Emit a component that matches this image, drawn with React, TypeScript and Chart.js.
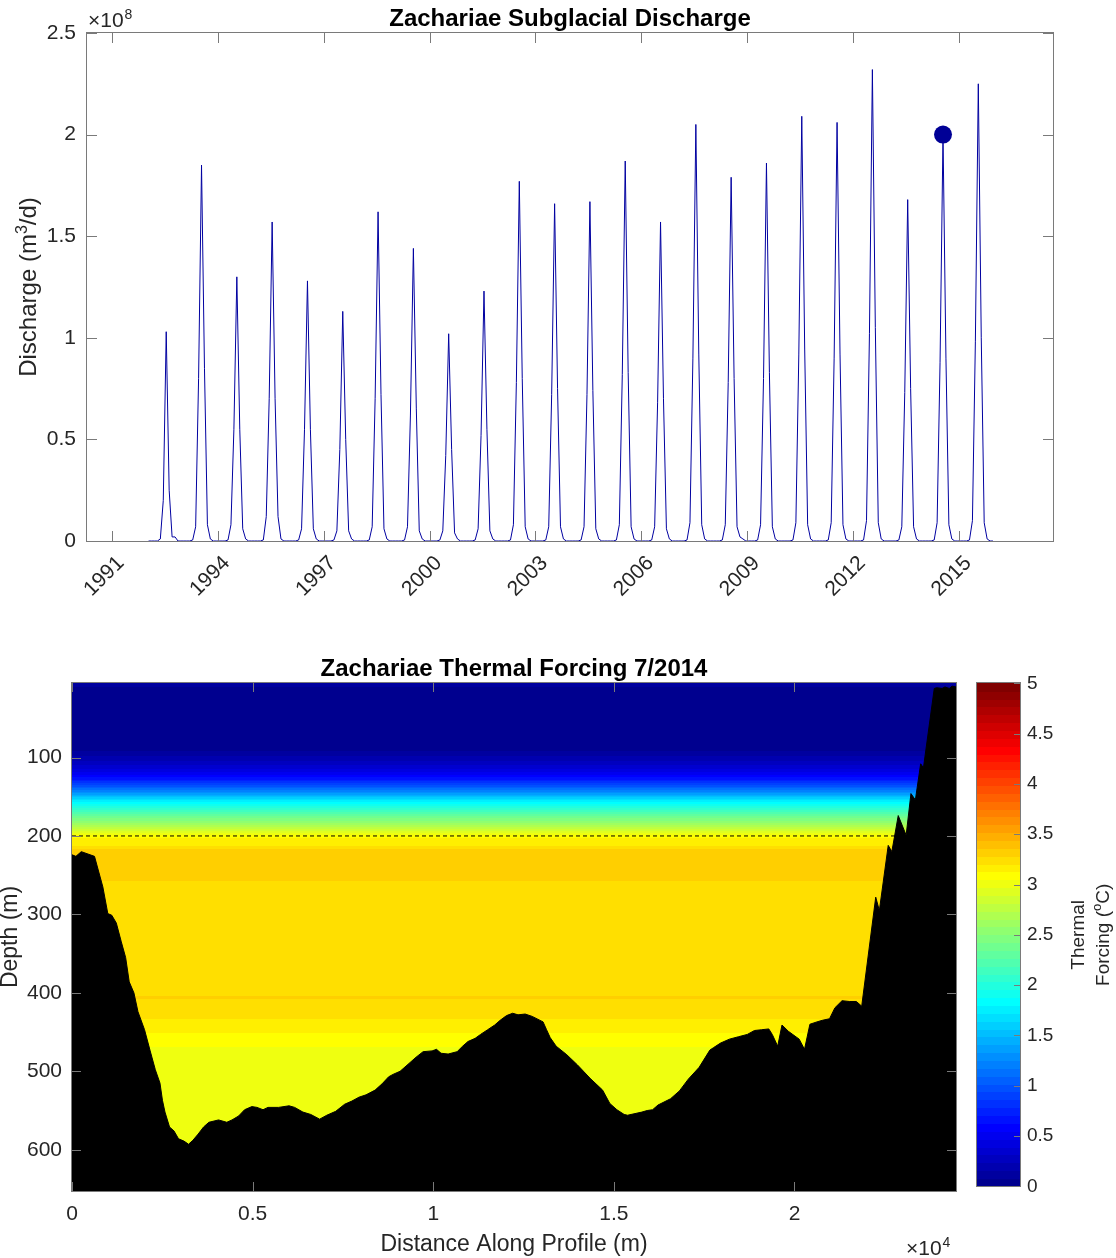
import React, { useEffect, useRef } from "react";
import { Chart, registerables } from "chart.js";
Chart.register(...registerables);

const FONT = "'Liberation Sans', Arial, Helvetica, sans-serif";
const TEXT = "#262626";
const FRAME = "#7a7a7a";
const LINE_BLUE = "rgb(0,0,160)";

// ---------------- Top chart data (discharge, units of 1e8 m^3/d) ----------------
const YEARS = [1992, 1993, 1994, 1995, 1996, 1997, 1998, 1999, 2000, 2001, 2002, 2003,
  2004, 2005, 2006, 2007, 2008, 2009, 2010, 2011, 2012, 2013, 2014, 2015];
// Jan..Dec for each year
const MONTHLY_DISCHARGE_1E8 = [
  [0, 0, 0, 0, 0.01, 0.20, 1.03, 0.25, 0.02, 0.02, 0, 0],
  [0, 0, 0, 0.005, 0.07, 0.80, 1.85, 0.85, 0.08, 0.01, 0, 0],
  [0, 0, 0, 0.005, 0.08, 0.55, 1.30, 0.55, 0.06, 0.01, 0, 0],
  [0, 0, 0, 0.005, 0.12, 0.70, 1.57, 0.70, 0.12, 0.01, 0, 0],
  [0, 0, 0, 0.005, 0.06, 0.55, 1.28, 0.55, 0.06, 0.01, 0, 0],
  [0, 0, 0, 0.005, 0.05, 0.45, 1.13, 0.50, 0.05, 0.01, 0, 0],
  [0, 0, 0, 0.005, 0.07, 0.70, 1.62, 0.72, 0.06, 0.01, 0, 0],
  [0, 0, 0, 0.005, 0.07, 0.62, 1.44, 0.65, 0.05, 0.01, 0, 0],
  [0, 0, 0, 0.005, 0.05, 0.42, 1.02, 0.45, 0.04, 0.01, 0, 0],
  [0, 0, 0, 0.005, 0.06, 0.52, 1.23, 0.55, 0.05, 0.01, 0, 0],
  [0, 0, 0, 0.005, 0.08, 0.78, 1.77, 0.80, 0.07, 0.01, 0, 0],
  [0, 0, 0, 0.005, 0.07, 0.72, 1.66, 0.75, 0.07, 0.01, 0, 0],
  [0, 0, 0, 0.005, 0.07, 0.72, 1.67, 0.74, 0.06, 0.01, 0, 0],
  [0, 0, 0, 0.005, 0.08, 0.82, 1.87, 0.83, 0.07, 0.01, 0, 0],
  [0, 0, 0, 0.005, 0.07, 0.68, 1.57, 0.70, 0.06, 0.01, 0, 0],
  [0, 0, 0, 0.005, 0.09, 0.90, 2.05, 0.92, 0.08, 0.01, 0, 0],
  [0, 0, 0, 0.005, 0.08, 0.78, 1.79, 0.80, 0.07, 0.02, 0.01, 0],
  [0, 0, 0, 0.005, 0.08, 0.80, 1.86, 0.83, 0.07, 0.01, 0, 0],
  [0, 0, 0, 0.005, 0.09, 0.92, 2.09, 0.94, 0.08, 0.01, 0, 0],
  [0, 0, 0, 0.005, 0.09, 0.90, 2.06, 0.92, 0.08, 0.01, 0, 0],
  [0, 0, 0, 0.005, 0.10, 1.02, 2.32, 1.05, 0.09, 0.01, 0, 0],
  [0, 0, 0, 0.005, 0.07, 0.73, 1.68, 0.75, 0.07, 0.01, 0, 0],
  [0, 0, 0, 0.005, 0.09, 0.88, 2.00, 0.90, 0.08, 0.01, 0, 0],
  [0, 0, 0, 0.005, 0.10, 0.98, 2.25, 1.00, 0.09, 0.01, 0, 0],
];
const MARKER_DATE = 2014 + 6.5 / 12;
const MARKER_DISCHARGE_1E8 = 2.0;
const YEAR_TICKS = [1991, 1994, 1997, 2000, 2003, 2006, 2009, 2012, 2015];
const DISCHARGE_TICKS = [0, 0.5, 1, 1.5, 2, 2.5];
const DATE_MIN = 1990.298;
const DATE_MAX = 2017.657;

// ---------------- Bottom chart data ----------------
const PROFILE_DIST_M = [0, 108, 257, 623, 854, 991, 1100, 1227, 1365, 1485, 1584, 1714, 1826, 2008,
  2158, 2307, 2435, 2504, 2574, 2700, 2823, 2949, 3099, 3227, 3346, 3493, 3642, 3789, 4057, 4285,
  4429, 4612, 4778, 4978, 5121, 5288, 5426, 5719, 6008, 6163, 6392, 6609, 6855, 7054, 7301, 7547,
  7746, 7944, 8140, 8390, 8583, 8766, 8885, 9082, 9329, 9525, 9719, 9968, 10090, 10217, 10412,
  10661, 10813, 10962, 11160, 11309, 11506, 11702, 11852, 12029, 12198, 12347, 12545, 12738, 13040,
  13137, 13237, 13403, 13699, 13995, 14344, 14688, 14888, 15084, 15284, 15380, 15776, 15923, 16072,
  16222, 16569, 16815, 17061, 17360, 17657, 17754, 17954, 18200, 18446, 18693, 18892, 19091, 19288,
  19385, 19535, 19654, 19831, 20130, 20277, 20427, 20623, 20771, 20970, 21120, 21316, 21515, 21712,
  21861, 22249, 22349, 22595, 22695, 22872, 23091, 23224, 23346, 23493, 23570, 23869, 23938, 24086,
  24166, 24285, 24362, 24471];
const BED_DEPTH_M = [224, 226, 220, 226, 265, 299, 301, 311, 335, 355, 386, 400, 424, 447,
  473, 498, 515, 537, 552, 571, 576, 586, 589, 593, 588, 580, 571, 565, 562, 565,
  562, 557, 549, 545, 546, 549, 546, 546, 544, 546, 552, 555, 561, 556, 551, 542,
  538, 533, 530, 524, 516, 507, 504, 500, 490, 482, 475, 474, 472, 477, 478,
  475, 468, 462, 458, 453, 447, 441, 435, 429, 426, 428, 427, 430, 437,
  447, 457, 468, 479, 492, 509, 524, 541, 549, 555, 556, 552, 550, 549,
  543, 535, 525, 510, 495, 473, 470, 464, 459, 456, 453, 448, 447, 446,
  453, 468, 441, 449, 459, 472, 440, 437, 435, 433, 419, 410, 411, 411,
  417, 278, 295, 212, 220, 174, 199, 146, 154, 108, 113, 12, 11, 12,
  10, 12, 9, 10];
// Thermal forcing profile (function of depth only)
const TF_DEPTH_M = [5, 18, 90, 102, 118, 128, 137, 146, 154, 163, 171, 180, 188, 196, 204, 212,
  218, 253, 260, 402, 406, 409, 428, 436, 448, 455, 466, 474, 652.6];
const TF_VALUE_C = [0.10, 0.05, 0.05, 0.20, 0.45, 0.70, 1.00, 1.35, 1.70, 2.00, 2.25, 2.48, 2.72, 2.97, 3.16, 3.17,
  3.32, 3.33, 3.25, 3.25, 3.30, 3.26, 3.26, 3.17, 3.16, 3.09, 3.08, 3.00, 2.99];
const DASH_DEPTH_M = 200;
const DIST_TICKS = [0, 5000, 10000, 15000, 20000];
const DEPTH_TICKS = [100, 200, 300, 400, 500, 600];
const CB_TICKS = [0, 0.5, 1, 1.5, 2, 2.5, 3, 3.5, 4, 4.5, 5];
const DEPTH_MIN = 5;
const DEPTH_MAX = 652.6;
const DIST_MAX = 24471;
const TF_MIN = 0;
const TF_MAX = 5;

// ---------------- helpers ----------------
function jet64(k: number): string {
  const u = (i: number) => (i < 1 || i > 47 ? 0 : i <= 16 ? i / 16 : i <= 31 ? 1 : (48 - i) / 16);
  const r = Math.round(u(k - 24) * 255);
  const g = Math.round(u(k - 8) * 255);
  const b = Math.round(u(k + 8) * 255);
  return `rgb(${r},${g},${b})`;
}
function tfColor(v: number): string {
  let k = Math.floor(((v - TF_MIN) / (TF_MAX - TF_MIN)) * 64) + 1;
  k = Math.max(1, Math.min(64, k));
  return jet64(k);
}
function tfAt(depth: number): number {
  if (depth <= TF_DEPTH_M[0]) return TF_VALUE_C[0];
  for (let i = 1; i < TF_DEPTH_M.length; i++) {
    if (depth <= TF_DEPTH_M[i]) {
      const t = (depth - TF_DEPTH_M[i - 1]) / (TF_DEPTH_M[i] - TF_DEPTH_M[i - 1]);
      return TF_VALUE_C[i - 1] + t * (TF_VALUE_C[i] - TF_VALUE_C[i - 1]);
    }
  }
  return TF_VALUE_C[TF_VALUE_C.length - 1];
}
function fmt(v: number): string {
  return String(Math.round(v * 1000) / 1000);
}
function drawBox(chart: any, tl: number) {
  const { ctx, chartArea: a } = chart;
  const xs = chart.scales.x, ys = chart.scales.y;
  ctx.save();
  ctx.strokeStyle = FRAME;
  ctx.lineWidth = 1;
  ctx.beginPath();
  for (const t of xs.ticks) {
    const px = Math.round(xs.getPixelForValue(t.value)) + 0.5;
    ctx.moveTo(px, a.bottom); ctx.lineTo(px, a.bottom - tl);
    ctx.moveTo(px, a.top); ctx.lineTo(px, a.top + tl);
  }
  for (const t of ys.ticks) {
    const py = Math.round(ys.getPixelForValue(t.value)) + 0.5;
    ctx.moveTo(a.left, py); ctx.lineTo(a.left + tl, py);
    ctx.moveTo(a.right, py); ctx.lineTo(a.right - tl, py);
  }
  ctx.stroke();
  ctx.strokeRect(a.left - 0.5, a.top - 0.5, a.right - a.left + 1, a.bottom - a.top + 1);
  ctx.restore();
}
function drawTimes10(ctx: any, x: number, y: number, exp: string) {
  ctx.save();
  ctx.fillStyle = TEXT;
  ctx.textBaseline = "alphabetic";
  ctx.textAlign = "left";
  ctx.font = `21px ${FONT}`;
  ctx.fillText("\u00d710", x, y);
  const w = ctx.measureText("\u00d710").width;
  ctx.font = `14px ${FONT}`;
  ctx.fillText(exp, x + w + 1, y - 8);
  ctx.restore();
}
function noPad(s: any) {
  s.paddingTop = 0;
  s.paddingBottom = 0;
  s.paddingLeft = 0;
  s.paddingRight = 0;
}

const baseScale = (extra: any) => ({
  type: "linear",
  grid: { display: false, drawTicks: false },
  border: { display: false },
  ...extra,
});

// ---------------- top chart ----------------
function topConfig(): any {
  const points = YEARS.flatMap((yr, i) =>
    MONTHLY_DISCHARGE_1E8[i].map((v, m) => ({ x: yr + (m + 0.5) / 12, y: v }))
  );
  const topPlugin = {
    id: "topDeco",
    afterDraw(chart: any) {
      drawBox(chart, 10);
      const { ctx, chartArea: a } = chart;
      ctx.save();
      ctx.fillStyle = "#000";
      ctx.font = `bold 24px ${FONT}`;
      ctx.textAlign = "center";
      ctx.textBaseline = "alphabetic";
      ctx.fillText("Zachariae Subglacial Discharge", (a.left + a.right) / 2, 26);
      ctx.restore();
      drawTimes10(ctx, a.left + 1, 27, "8");
      // y label with superscript
      ctx.save();
      ctx.translate(36, (a.top + a.bottom) / 2);
      ctx.rotate(-Math.PI / 2);
      ctx.fillStyle = TEXT;
      ctx.textBaseline = "alphabetic";
      ctx.textAlign = "left";
      const p1 = "Discharge (m", p2 = "3", p3 = "/d)";
      ctx.font = `24px ${FONT}`;
      const w1 = ctx.measureText(p1).width, w3 = ctx.measureText(p3).width;
      ctx.font = `16px ${FONT}`;
      const w2 = ctx.measureText(p2).width;
      const x0 = -(w1 + w2 + w3) / 2;
      ctx.font = `24px ${FONT}`;
      ctx.fillText(p1, x0, 0);
      ctx.fillText(p3, x0 + w1 + w2, 0);
      ctx.font = `16px ${FONT}`;
      ctx.fillText(p2, x0 + w1, -9);
      ctx.restore();
    },
  };
  return {
    type: "line",
    data: {
      datasets: [
        {
          label: "2014 marker",
          data: [{ x: MARKER_DATE, y: MARKER_DISCHARGE_1E8 }],
          showLine: false,
          pointRadius: 9,
          pointBackgroundColor: "rgb(0,0,150)",
          pointBorderWidth: 0,
          order: 0,
        },
        {
          label: "Discharge",
          data: points,
          borderColor: LINE_BLUE,
          borderWidth: 1,
          pointRadius: 0,
          tension: 0,
          fill: false,
          order: 1,
        },
      ],
    },
    options: {
      animation: false,
      responsive: false,
      devicePixelRatio: 1,
      layout: { autoPadding: false, padding: { left: 0, right: 63, top: 33, bottom: 0 } },
      plugins: { legend: { display: false }, tooltip: { enabled: false }, title: { display: false } },
      scales: {
        x: baseScale({
          position: "bottom",
          min: DATE_MIN,
          max: DATE_MAX,
          afterBuildTicks: (s: any) => { s.ticks = YEAR_TICKS.map((v) => ({ value: v })); },
          afterFit: (s: any) => { s.height = 79; noPad(s); },
          ticks: {
            autoSkip: false, minRotation: 45, maxRotation: 45, padding: 10, labelOffset: 9,
            color: TEXT, font: { size: 21, family: FONT },
            callback: (v: any) => String(v),
          },
        }),
        y: baseScale({
          position: "left",
          min: 0,
          max: 2.5,
          afterBuildTicks: (s: any) => { s.ticks = DISCHARGE_TICKS.map((v) => ({ value: v })); },
          afterFit: (s: any) => { s.width = 87; noPad(s); },
          ticks: {
            autoSkip: false, padding: 11, color: TEXT, font: { size: 21, family: FONT },
            callback: (v: any) => fmt(v),
          },
        }),
      },
    },
    plugins: [topPlugin],
  };
}

// ---------------- bottom chart ----------------
function bottomConfig(): any {
  const bed = PROFILE_DIST_M.map((d, i) => ({ x: d, y: BED_DEPTH_M[i] }));
  const dash = [{ x: 0, y: DASH_DEPTH_M }, { x: DIST_MAX, y: DASH_DEPTH_M }];
  const CB_GAP = 21, CB_W = 43;
  const field = {
    id: "tfField",
    beforeDatasetsDraw(chart: any) {
      const { ctx, chartArea: a } = chart;
      const ys = chart.scales.y;
      ctx.save();
      for (let py = Math.floor(a.top); py < Math.ceil(a.bottom); py++) {
        const depth = ys.getValueForPixel(py + 0.5);
        ctx.fillStyle = tfColor(tfAt(depth));
        ctx.fillRect(a.left, py, a.right - a.left, 1);
      }
      ctx.restore();
    },
    afterDraw(chart: any) {
      drawBox(chart, 9);
      const { ctx, chartArea: a } = chart;
      const cb = chart.scales.cb;
      const cx = a.right + CB_GAP;
      // colorbar
      ctx.save();
      for (let i = 0; i < 64; i++) {
        const v0 = TF_MIN + (i * (TF_MAX - TF_MIN)) / 64;
        const v1 = TF_MIN + ((i + 1) * (TF_MAX - TF_MIN)) / 64;
        const yTop = cb.getPixelForValue(v1), yBot = cb.getPixelForValue(v0);
        ctx.fillStyle = jet64(i + 1);
        ctx.fillRect(cx, Math.floor(yTop), CB_W, Math.ceil(yBot) - Math.floor(yTop));
      }
      const yT = cb.getPixelForValue(TF_MAX), yB = cb.getPixelForValue(TF_MIN);
      ctx.strokeStyle = FRAME;
      ctx.lineWidth = 1;
      ctx.beginPath();
      for (const t of cb.ticks) {
        const py = Math.round(cb.getPixelForValue(t.value)) + 0.5;
        ctx.moveTo(cx + CB_W, py); ctx.lineTo(cx + CB_W - 6, py);
      }
      ctx.stroke();
      ctx.strokeRect(Math.round(cx) - 0.5, Math.round(yT) - 0.5, CB_W + 1, Math.round(yB - yT) + 1);
      ctx.restore();
      // colorbar title
      ctx.save();
      ctx.translate(0, (yT + yB) / 2);
      ctx.rotate(-Math.PI / 2);
      ctx.fillStyle = TEXT;
      ctx.textBaseline = "alphabetic";
      ctx.font = `19px ${FONT}`;
      ctx.textAlign = "center";
      ctx.fillText("Thermal", 0, 1084);
      const q1 = "Forcing (", q2 = "o", q3 = "C)";
      const w1 = ctx.measureText(q1).width, w3 = ctx.measureText(q3).width;
      ctx.font = `13px ${FONT}`;
      const w2 = ctx.measureText(q2).width;
      const x0 = -(w1 + w2 + w3) / 2;
      ctx.textAlign = "left";
      ctx.font = `19px ${FONT}`;
      ctx.fillText(q1, x0, 1109);
      ctx.fillText(q3, x0 + w1 + w2, 1109);
      ctx.font = `13px ${FONT}`;
      ctx.fillText(q2, x0 + w1, 1109 - 8);
      ctx.restore();
      // titles
      ctx.save();
      ctx.fillStyle = "#000";
      ctx.font = `bold 24px ${FONT}`;
      ctx.textAlign = "center";
      ctx.textBaseline = "alphabetic";
      const cxm = (a.left + a.right) / 2;
      ctx.fillText("Zachariae Thermal Forcing 7/2014", cxm, 56);
      ctx.fillStyle = TEXT;
      ctx.font = `23px ${FONT}`;
      ctx.fillText("Distance Along Profile (m)", cxm, 631);
      ctx.translate(17, (a.top + a.bottom) / 2);
      ctx.rotate(-Math.PI / 2);
      ctx.fillText("Depth (m)", 0, 0);
      ctx.restore();
      drawTimes10(ctx, 906, 635, "4");
    },
  };
  return {
    type: "line",
    data: {
      datasets: [
        {
          label: "Bed",
          data: bed,
          borderColor: "#000",
          borderWidth: 1,
          backgroundColor: "#000",
          fill: { value: DEPTH_MAX },
          pointRadius: 0,
          tension: 0,
          order: 0,
        },
        {
          label: "200 m",
          data: dash,
          borderColor: "#000",
          borderWidth: 1,
          borderDash: [4, 3],
          pointRadius: 0,
          fill: false,
          order: 1,
        },
      ],
    },
    options: {
      animation: false,
      responsive: false,
      devicePixelRatio: 1,
      layout: { autoPadding: false, padding: { left: 0, right: 0, top: 63, bottom: 0 } },
      plugins: { legend: { display: false }, tooltip: { enabled: false }, title: { display: false } },
      scales: {
        x: baseScale({
          position: "bottom",
          min: 0,
          max: DIST_MAX,
          afterBuildTicks: (s: any) => { s.ticks = DIST_TICKS.map((v) => ({ value: v })); },
          afterFit: (s: any) => { s.height = 67; noPad(s); },
          ticks: {
            autoSkip: false, maxRotation: 0, padding: 11, color: TEXT, font: { size: 21, family: FONT },
            callback: (v: any) => fmt(v / 1e4),
          },
        }),
        y: baseScale({
          position: "left",
          reverse: true,
          min: DEPTH_MIN,
          max: DEPTH_MAX,
          afterBuildTicks: (s: any) => { s.ticks = DEPTH_TICKS.map((v) => ({ value: v })); },
          afterFit: (s: any) => { s.width = 72; noPad(s); },
          ticks: {
            autoSkip: false, padding: 10, color: TEXT, font: { size: 21, family: FONT },
            callback: (v: any) => String(v),
          },
        }),
        cb: baseScale({
          axis: "y",
          position: "right",
          min: -0.0467,
          max: 5.003,
          afterBuildTicks: (s: any) => { s.ticks = CB_TICKS.map((v) => ({ value: v })); },
          afterFit: (s: any) => { s.width = 160; noPad(s); },
          ticks: {
            autoSkip: false, padding: 71, color: TEXT, font: { size: 19, family: FONT },
            callback: (v: any) => fmt(v),
          },
        }),
      },
    },
    plugins: [field],
  };
}

export default function App() {
  const topRef = useRef<HTMLCanvasElement>(null);
  const botRef = useRef<HTMLCanvasElement>(null);
  useEffect(() => {
    const c1 = new Chart(topRef.current as HTMLCanvasElement, topConfig());
    const c2 = new Chart(botRef.current as HTMLCanvasElement, bottomConfig());
    return () => {
      c1.destroy();
      c2.destroy();
    };
  }, []);
  return (
    <div style={{ position: "absolute", left: 0, top: 0, width: 1116, height: 1258, background: "#fff" }}>
      <canvas ref={topRef} width={1116} height={620} style={{ position: "absolute", left: 0, top: 0 }} />
      <canvas ref={botRef} width={1116} height={638} style={{ position: "absolute", left: 0, top: 620 }} />
    </div>
  );
}
